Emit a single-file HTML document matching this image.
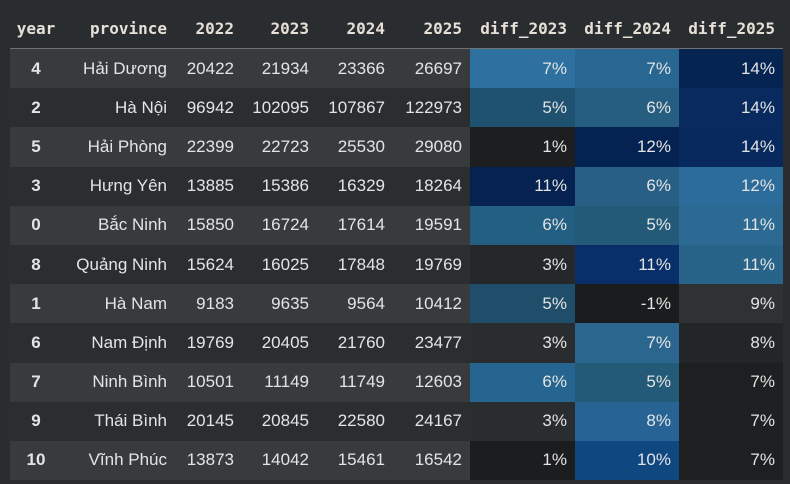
<!DOCTYPE html>
<html><head><meta charset="utf-8"><style>
html,body{margin:0;padding:0;background:#2a2d30;width:790px;height:484px;overflow:hidden}
table{position:absolute;left:10px;top:9px;border-collapse:collapse;table-layout:fixed;width:773px;font-family:"Liberation Sans",sans-serif;font-size:17px;color:#e4e4e4}
th{font-family:"DejaVu Sans Mono","Liberation Mono",monospace;font-weight:bold;font-size:16px;height:39px;text-align:right;padding:0 8px 0 0;color:#e6e0d6;border-bottom:1px solid #6f7173}
th.y{text-align:center;padding:0}
td{height:39.2px;padding:0 8px 0 0;text-align:right;white-space:nowrap}
td.y{text-align:center;font-weight:bold;padding:0}
tr.o td{background:#383b3e}
tr.e td{background:#2b2e31}
</style></head><body>
<table>
<colgroup><col style="width:52px"><col style="width:113px"><col style="width:67px"><col style="width:75px"><col style="width:76px"><col style="width:77px"><col style="width:105px"><col style="width:104px"><col style="width:104px"></colgroup>
<thead><tr>
<th class="y">year</th>
<th>province</th>
<th>2022</th>
<th>2023</th>
<th>2024</th>
<th>2025</th>
<th>diff_2023</th>
<th>diff_2024</th>
<th>diff_2025</th>
</tr></thead>
<tbody id="tb"></tbody>
</table>
<script>
const years=[4,2,5,3,0,8,1,6,7,9,10];
const provinces=["Hải Dương","Hà Nội","Hải Phòng","Hưng Yên","Bắc Ninh","Quảng Ninh","Hà Nam","Nam Định","Ninh Bình","Thái Bình","Vĩnh Phúc"];
const v2022=[20422,96942,22399,13885,15850,15624,9183,19769,10501,20145,13873];
const v2023=[21934,102095,22723,15386,16724,16025,9635,20405,11149,20845,14042];
const v2024=[23366,107867,25530,16329,17614,17848,9564,21760,11749,22580,15461];
const v2025=[26697,122973,29080,18264,19591,19769,10412,23477,12603,24167,16542];
const d2023=["7%","5%","1%","11%","6%","3%","5%","3%","6%","3%","1%"];
const d2024=["7%","6%","12%","6%","5%","11%","-1%","7%","5%","8%","10%"];
const d2025=["14%","14%","14%","12%","11%","11%","9%","8%","7%","7%","7%"];
const c2023=["#2e71a0","#1e5270","#1c1e20","#052250","#235f82","#25282b","#1f4e6a","#2a2d30","#26658f","#2a2d30","#1c1d1f"];
const c2024=["#276791","#255e80","#052352","#276084","#235a78","#082f69","#1b1c1e","#2a668e","#235a78","#276395","#0f4781"];
const c2025=["#062451","#082a5e","#07295e","#2c6c9a","#2c6a94","#286489","#2f3235","#232629","#1d1f21","#1e2022","#1d1f21"];
const tb=document.getElementById('tb');
for(let i=0;i<years.length;i++){
  const tr=document.createElement('tr');
  tr.className=i%2===0?'o':'e';
  
  
  const vals=[years[i],provinces[i],v2022[i],v2023[i],v2024[i],v2025[i],d2023[i],d2024[i],d2025[i]];
  const names=['year','province','value-2022','value-2023','value-2024','value-2025','diff-2023','diff-2024','diff-2025'];
  const cols=[null,null,null,null,null,null,c2023[i],c2024[i],c2025[i]];
  vals.forEach((v,j)=>{
    const td=document.createElement('td');
    td.textContent=v;
    if(j===0)td.className='y';
    if(cols[j])td.style.background=cols[j];
    
    
    tr.appendChild(td);
  });
  tb.appendChild(tr);
}
</script>
</body></html>
